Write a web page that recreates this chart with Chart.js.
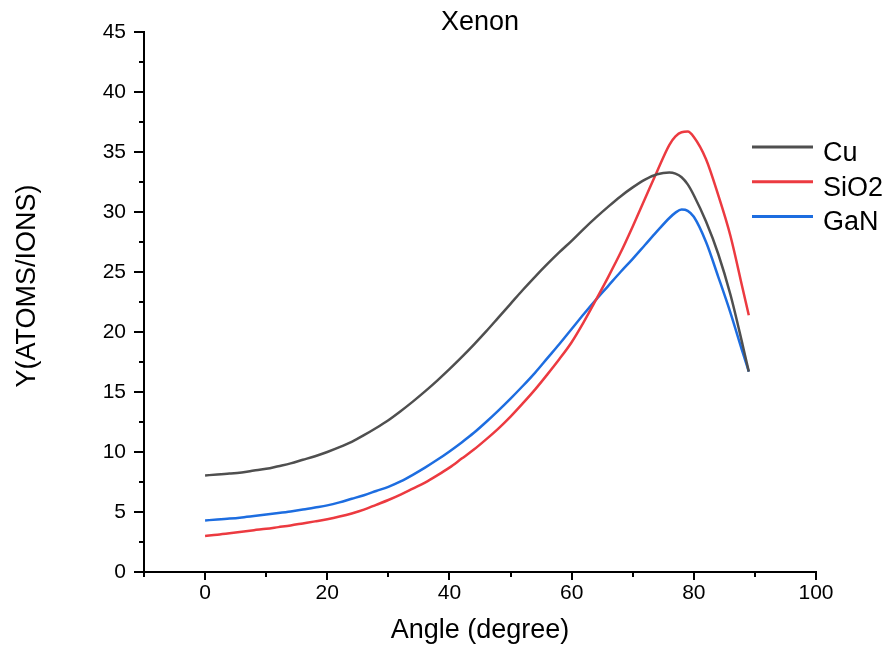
<!DOCTYPE html>
<html><head><meta charset="utf-8">
<script src="https://cdn.jsdelivr.net/npm/chart.js@4"></script>
<style>html,body{margin:0;padding:0;background:#fff}</style>
</head><body>
<canvas id="c" width="888" height="656"></canvas>
<script>
const chartTitle = 'Xenon';
const xAxisTitle = 'Angle (degree)';
const yAxisTitle = 'Y(ATOMS/IONS)';
const seriesNames = ['Cu', 'SiO2', 'GaN'];
const seriesColors = ['#4f4f4f', '#ec3a40', '#1d6de0'];
const angles = [0,2,4,6,8,10,12,14,16,18,20,22,24,26,28,30,32,34,36,38,40,42,44,46,48,50,52,54,56,58,60,62,64,66,68,70,72,74,76,77,78,79,80,82,84,86,88,89];
const cu   = [8.05,8.12,8.2,8.3,8.45,8.6,8.82,9.05,9.35,9.65,10.0,10.4,10.85,11.4,12.0,12.65,13.4,14.2,15.05,15.95,16.9,17.9,18.95,20.05,21.2,22.35,23.5,24.6,25.65,26.65,27.6,28.6,29.55,30.45,31.3,32.05,32.7,33.15,33.3,33.2,32.9,32.3,31.4,29.2,26.5,23.1,18.9,16.7];
const sio2 = [3.0,3.1,3.22,3.35,3.48,3.6,3.74,3.88,4.05,4.22,4.4,4.62,4.88,5.2,5.6,6.0,6.45,6.95,7.45,8.05,8.7,9.45,10.2,11.05,11.95,12.95,14.05,15.2,16.45,17.75,19.15,20.85,22.7,24.6,26.6,28.8,31.1,33.4,35.6,36.3,36.65,36.7,36.25,34.4,31.4,28.0,23.6,21.4];
const gan  = [4.3,4.37,4.45,4.55,4.67,4.8,4.92,5.05,5.2,5.37,5.55,5.8,6.1,6.4,6.75,7.1,7.55,8.1,8.7,9.35,10.05,10.8,11.6,12.5,13.45,14.45,15.5,16.6,17.8,19.0,20.25,21.5,22.7,23.85,25.0,26.1,27.25,28.4,29.5,29.95,30.2,30.1,29.6,27.5,24.6,21.6,18.3,16.7];
const xTickValues = [-10,0,10,20,30,40,50,60,70,80,90,100];
const xLabelValues = [0,20,40,60,80,100];
const yTickValues = [0,2.5,5,7.5,10,12.5,15,17.5,20,22.5,25,27.5,30,32.5,35,37.5,40,42.5,45];
const yLabelValues = [0,5,10,15,20,25,30,35,40,45];

const FONT = 'Liberation Sans, Arial, sans-serif';
const allSeries = [cu, sio2, gan];

const extras = {
  id: 'extras',
  afterDraw(chart) {
    const ctx = chart.ctx;
    const xs = chart.scales.x, ys = chart.scales.y;
    const area = chart.chartArea;
    ctx.save();
    ctx.strokeStyle = '#000';
    ctx.lineWidth = 2;
    ctx.beginPath();
    xTickValues.forEach(v => {
      const px = Math.round(xs.getPixelForValue(v));
      const len = xLabelValues.includes(v) ? 8 : 5;
      ctx.moveTo(px, area.bottom);
      ctx.lineTo(px, area.bottom + len);
    });
    yTickValues.forEach(v => {
      const py = Math.round(ys.getPixelForValue(v));
      const len = yLabelValues.includes(v) ? 10 : 5;
      ctx.moveTo(area.left, py);
      ctx.lineTo(area.left - len, py);
    });
    ctx.stroke();
    ctx.fillStyle = '#000';
    ctx.font = '27px ' + FONT;
    // chart title
    ctx.textAlign = 'center';
    ctx.textBaseline = 'alphabetic';
    ctx.fillText(chartTitle, (area.left + area.right) / 2, 30);
    // y-axis title
    ctx.save();
    ctx.translate(28, 286);
    ctx.rotate(-Math.PI / 2);
    ctx.textAlign = 'center';
    ctx.textBaseline = 'middle';
    ctx.fillText(yAxisTitle, 0, 0);
    ctx.restore();
    // legend
    ctx.textAlign = 'left';
    ctx.textBaseline = 'alphabetic';
    seriesNames.forEach((name, i) => {
      const y = 147 + i * 34.7;
      ctx.strokeStyle = seriesColors[i];
      ctx.lineWidth = 3;
      ctx.beginPath();
      ctx.moveTo(752, y);
      ctx.lineTo(813, y);
      ctx.stroke();
      ctx.fillStyle = '#000';
      ctx.fillText(name, 823, y + 14);
    });
    ctx.restore();
  }
};

new Chart(document.getElementById('c'), {
  type: 'line',
  data: {
    datasets: seriesNames.map((name, i) => ({
      label: name,
      data: angles.map((a, j) => ({x: a, y: allSeries[i][j]})),
      borderColor: seriesColors[i],
      backgroundColor: seriesColors[i],
      borderWidth: 2.5,
      pointRadius: 0,
      fill: false,
      cubicInterpolationMode: 'monotone'
    }))
  },
  options: {
    responsive: false,
    animation: false,
    devicePixelRatio: 1,
    layout: {padding: {top: 32, right: 72, bottom: 0, left: 0}},
    plugins: {legend: {display: false}, title: {display: false}, tooltip: {enabled: false}},
    scales: {
      x: {
        type: 'linear', min: -10, max: 100,
        afterBuildTicks: s => { s.ticks = xTickValues.map(v => ({value: v})); },
        afterFit: s => { s.height = 84; },
        ticks: {
          callback: v => xLabelValues.includes(v) ? String(v) : '',
          font: {family: FONT, size: 21}, color: '#000', padding: 9,
          autoSkip: false, maxRotation: 0, minRotation: 0
        },
        grid: {display: false, drawTicks: false},
        border: {display: true, color: '#000', width: 2},
        title: {display: true, text: xAxisTitle, color: '#000', font: {family: FONT, size: 27}, padding: {top: 0, bottom: 9}}
      },
      y: {
        type: 'linear', min: 0, max: 45,
        afterBuildTicks: s => { s.ticks = yTickValues.map(v => ({value: v})); },
        afterFit: s => { s.width = 144; },
        ticks: {
          callback: v => yLabelValues.includes(v) ? String(v) : '',
          font: {family: FONT, size: 21}, color: '#000', padding: 18, autoSkip: false
        },
        grid: {display: false, drawTicks: false},
        border: {display: true, color: '#000', width: 2},
        title: {display: false}
      }
    }
  },
  plugins: [extras]
});
</script>
</body></html>
